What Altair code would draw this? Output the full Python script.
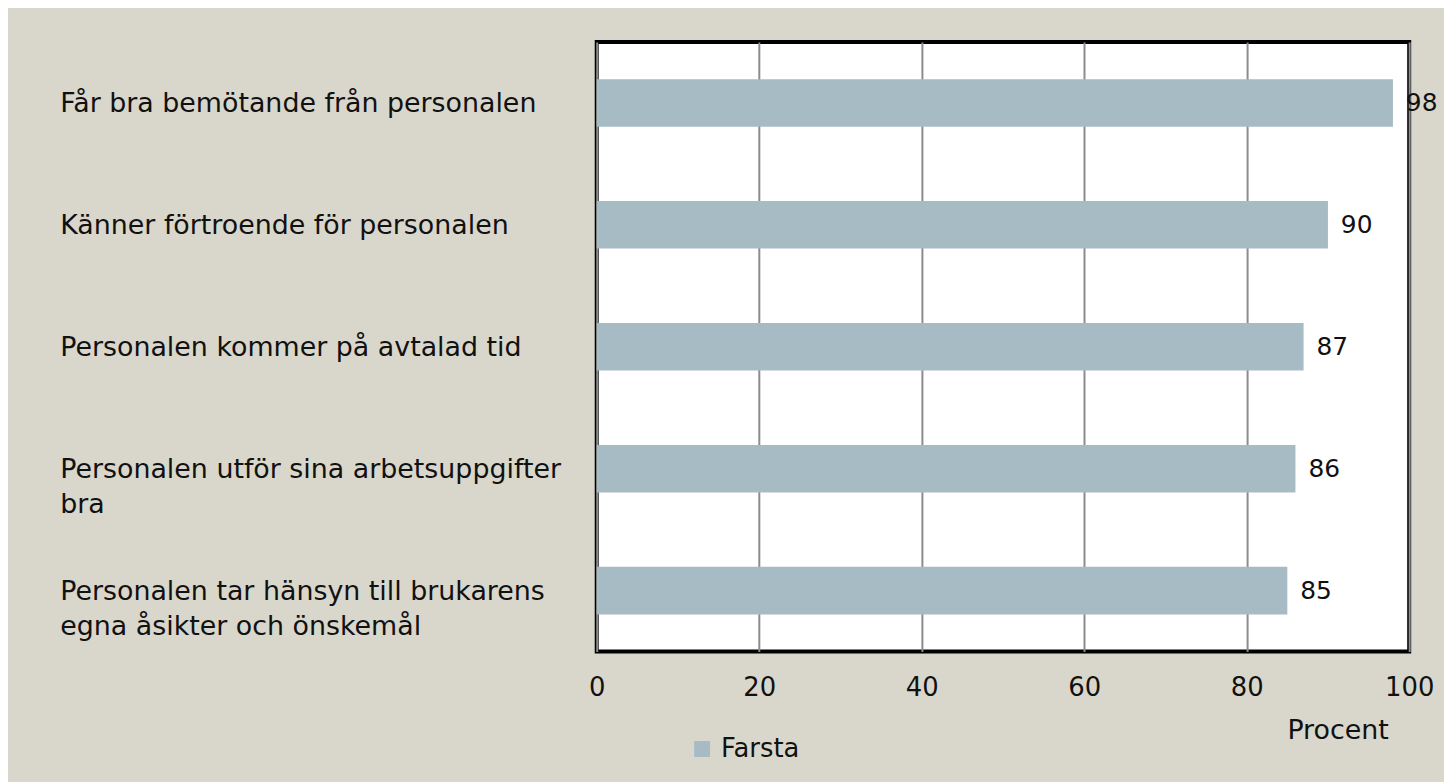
import altair as alt
import pandas as pd

categories = [
    "Får bra bemötande från personalen",
    "Känner förtroende för personalen",
    "Personalen kommer på avtalad tid",
    "Personalen utför sina arbetsuppgifter|bra",
    "Personalen tar hänsyn till brukarens|egna åsikter och önskemål",
]
values = [98, 90, 87, 86, 85]
series = ["Farsta"] * len(categories)
x_ticks = [0, 20, 40, 60, 80, 100]

df = pd.DataFrame({"kategori": categories, "procent": values, "serie": series})

FONT = "DejaVu Sans"
TXT = "#111111"
BAR = "#a7bbc5"
BG = "#d9d7cb"

y_enc = alt.Y(
    "kategori:N",
    sort=categories,
    scale=alt.Scale(paddingInner=0.61, paddingOuter=0.305),
    axis=alt.Axis(
        title=None,
        domain=False,
        ticks=False,
        grid=False,
        labelAlign="left",
        labelBaseline="top",
        labelOffset=-12,
        labelPadding=540,
        labelLimit=0,
        labelFont=FONT,
        labelFontSize=27,
        labelColor=TXT,
        labelLineHeight=36,
        labelExpr="split(datum.label, '|')",
    ),
)

x_enc = alt.X(
    "procent:Q",
    scale=alt.Scale(domain=[0, 100], nice=False),
    axis=alt.Axis(
        values=x_ticks,
        title="Procent",
        titleFont=FONT,
        titleFontSize=27,
        titleFontWeight="normal",
        titleColor=TXT,
        titleX=745,
        titleY=79,
        titleAlign="center",
        titleBaseline="middle",
        domain=False,
        ticks=False,
        grid=True,
        gridColor="#8c8c8c",
        gridWidth=2,
        labelFlush=False,
        labelPadding=23,
        labelFont=FONT,
        labelFontSize=26,
        labelColor=TXT,
    ),
)

bars = alt.Chart(df).mark_bar().encode(
    x=x_enc,
    y=y_enc,
    color=alt.Color(
        "serie:N",
        scale=alt.Scale(domain=["Farsta"], range=[BAR]),
        legend=alt.Legend(
            title=None,
            orient="none",
            legendX=93,
            legendY=698,
            symbolType="square",
            symbolSize=256,
            symbolStrokeWidth=0,
            labelFont=FONT,
            labelFontSize=26,
            labelColor=TXT,
            labelOffset=6,
        ),
    ),
)

labels = alt.Chart(df).mark_text(
    align="left", baseline="middle", dx=13, font=FONT, fontSize=25, color=TXT
).encode(
    x=alt.X("procent:Q"),
    y=alt.Y("kategori:N", sort=categories),
    text=alt.Text("procent:Q"),
)

chart = (
    alt.layer(bars, labels)
    .properties(
        width=817,
        height=613,
        background=BG,
        padding={"left": 592, "top": 32, "right": 35, "bottom": 129},
        autosize=alt.AutoSizeParams(type="none"),
    )
    .configure_view(stroke="#000000", strokeWidth=4, fill="#ffffff")
)

chart.save("out.html", embed_options={"renderer": "svg", "actions": False})
